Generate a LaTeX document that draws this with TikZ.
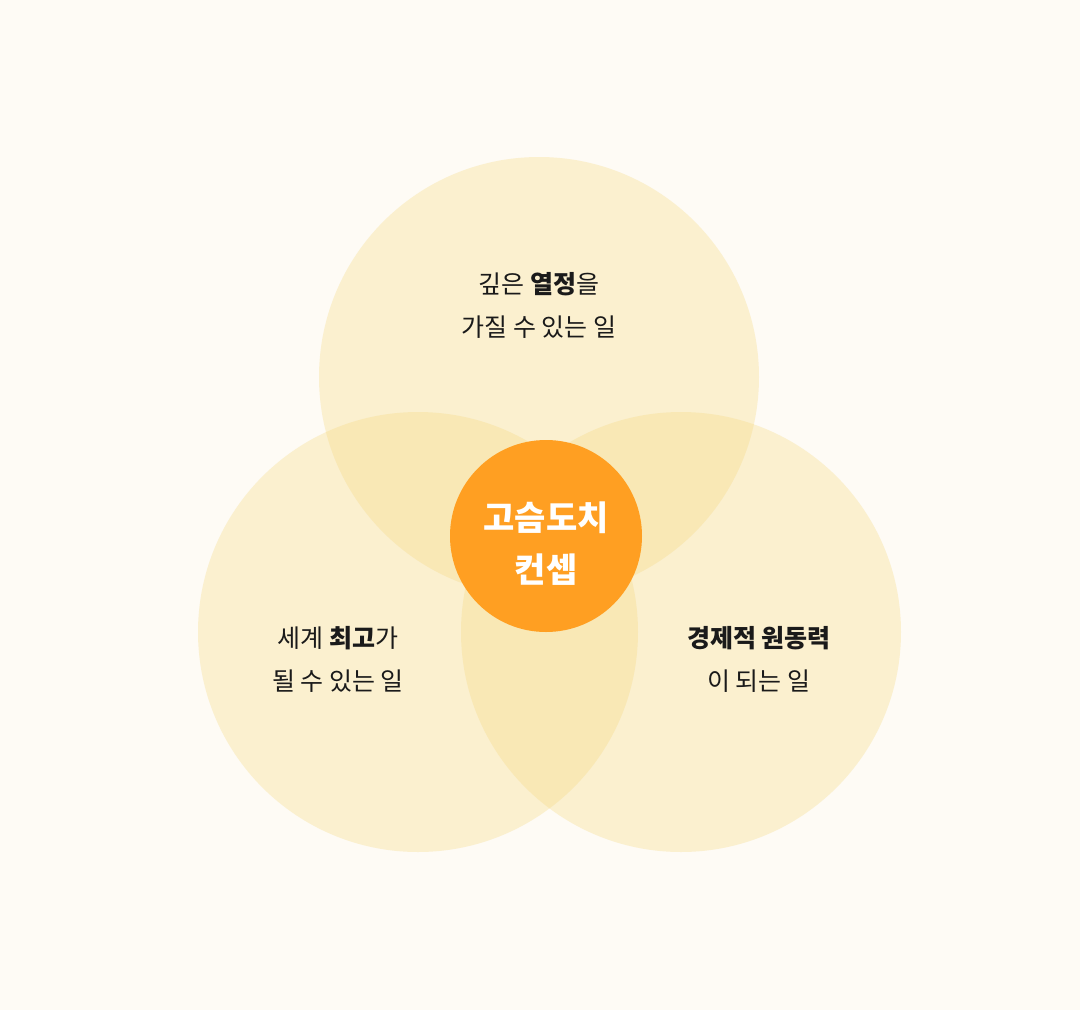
\documentclass[tikz,border=0pt]{standalone}
\usepackage{fontspec}
\setmainfont{Noto Sans CJK KR}
\definecolor{bg}{HTML}{FEFBF5}
\definecolor{circ}{HTML}{F5D77A}
\definecolor{core}{HTML}{FF9F22}
\definecolor{txt}{HTML}{1A1A1A}
\begin{document}
\begin{tikzpicture}[x=1pt,y=-1pt,
  venn/.style={circle,fill=circ,fill opacity=0.3,minimum size=440pt,inner sep=0pt},
  lbl/.style={text=txt,font=\fontsize{25}{43}\selectfont,align=center}]
\fill[bg] (0,0) rectangle (1080,1010);
\useasboundingbox (0,0) rectangle (1080,1010);
\node[venn] (top) at (539,377) {};
\node[venn] (left) at (418,632) {};
\node[venn] (right) at (681,632) {};
\node[circle,fill=core,minimum size=192pt,inner sep=0pt] (core) at (546,536) {};
\node[text=white,font=\fontsize{34}{52}\selectfont\bfseries,align=center] (coretxt) at (546,544) {고슴도치\\컨셉};
\node[lbl] (t1) at (539,305) {깊은 \textbf{열정}을\\가질 수 있는 일};
\node[lbl] (t2) at (338,659) {세계 \textbf{최고}가\\될 수 있는 일};
\node[lbl] (t3) at (759,659) {\textbf{경제적 원동력}\\이 되는 일};
\end{tikzpicture}
\end{document}
